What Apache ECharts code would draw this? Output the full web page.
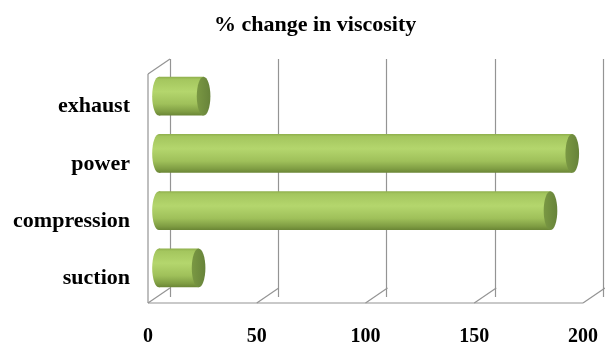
<!DOCTYPE html>
<html>
<head>
<meta charset="utf-8">
<script src="https://cdn.jsdelivr.net/npm/echarts@6/dist/echarts.min.js"></script>
<style>
  html, body { margin: 0; padding: 0; background: #ffffff; }
  #chart { width: 605px; height: 347px; }
</style>
</head>
<body>
<div id="chart"></div>
<script>
// Data
const categories = ['suction', 'compression', 'power', 'exhaust'];
const viscosityChange = [18.2, 180, 190, 20.5];
const axisTicks = [0, 50, 100, 150, 200];
const chartTitle = '% change in viscosity';

// Style constants
const FONT = "'Liberation Serif', 'Times New Roman', serif";
const DEPTH_X = 22;    // horizontal shift of the back wall
const DEPTH_Y = -15;   // vertical shift of the back wall
const FRAME = '#949494';

const chart = echarts.init(document.getElementById('chart'), null, { renderer: 'canvas' });

// Floor slants, front edge and left side of the 3-D box
function renderFrame(params, api) {
  const cs = params.coordSys;
  const x = api.coord([api.value(0), 0])[0];
  const yb = cs.y + cs.height;
  const line = (x1, y1, x2, y2) => ({
    type: 'line',
    shape: { x1: x1, y1: y1, x2: x2, y2: y2 },
    style: { stroke: FRAME, lineWidth: 1.2 }
  });
  const children = [line(x, yb, x + DEPTH_X, yb + DEPTH_Y)];
  if (params.dataIndex === 0) {
    children.push(line(x, cs.y, x, yb));
    children.push(line(x, cs.y, x + DEPTH_X, cs.y + DEPTH_Y));
    children.push(line(x, yb, cs.x + cs.width, yb));
  }
  return { type: 'group', children: children };
}

// Horizontal cylinders placed at mid depth
function renderCylinder(params, api) {
  const val = api.value(0);
  const idx = api.value(1);
  const p0 = api.coord([0, idx]);
  const p1 = api.coord([val, idx]);
  const h = api.size([0, 1])[1] * 0.68;
  const cx0 = p0[0] + DEPTH_X / 2;
  const cx1 = p1[0] + DEPTH_X / 2;
  const cy = p0[1] + DEPTH_Y / 2 + 1;
  const rx = h * 0.175;
  const ry = h / 2;
  const body = new echarts.graphic.LinearGradient(0, 0, 0, 1, [
    { offset: 0, color: '#8eae4b' },
    { offset: 0.07, color: '#a4c65e' },
    { offset: 0.38, color: '#b4d66d' },
    { offset: 0.7, color: '#9fc05a' },
    { offset: 0.9, color: '#7f9d43' },
    { offset: 1, color: '#6a8535' }
  ]);
  const cap = new echarts.graphic.LinearGradient(0, 0, 1, 0, [
    { offset: 0, color: '#7a9843' },
    { offset: 1, color: '#67833a' }
  ]);
  return {
    type: 'group',
    children: [
      { type: 'ellipse', shape: { cx: cx0, cy: cy, rx: rx, ry: ry }, style: { fill: body } },
      { type: 'rect', shape: { x: cx0, y: cy - ry, width: cx1 - cx0, height: h }, style: { fill: body } },
      { type: 'ellipse', shape: { cx: cx1, cy: cy, rx: rx, ry: ry }, style: { fill: cap } }
    ]
  };
}

const labelFont = { fontFamily: FONT, fontWeight: 'bold', fontSize: 22, color: '#000000' };

const option = {
  backgroundColor: '#ffffff',
  animation: false,
  title: {
    text: chartTitle,
    left: 209,
    top: 9,
    textStyle: { fontFamily: FONT, fontWeight: 'bold', fontSize: 22, color: '#000000' }
  },
  grid: [
    { left: 148, right: 22, top: 74, bottom: 35 },   // front plane
    { left: 170, right: 2, top: 59, bottom: 50 }     // back wall
  ],
  xAxis: [
    {
      type: 'value', gridIndex: 0,
      min: axisTicks[0], max: axisTicks[axisTicks.length - 1], interval: 50,
      axisLine: { show: false }, axisTick: { show: false }, splitLine: { show: false },
      axisLabel: { fontFamily: FONT, fontWeight: 'bold', fontSize: 20, color: '#000000', margin: 24 }
    },
    {
      type: 'value', gridIndex: 1,
      min: axisTicks[0], max: axisTicks[axisTicks.length - 1], interval: 50,
      axisLine: { show: false }, axisTick: { show: false }, axisLabel: { show: false },
      splitLine: { show: true, lineStyle: { color: FRAME, width: 1.2 } }
    }
  ],
  yAxis: [
    {
      type: 'category', gridIndex: 0, data: categories,
      axisLine: { show: false }, axisTick: { show: false }, splitLine: { show: false },
      axisLabel: Object.assign({
        margin: 18,
        formatter: v => '{c|' + v + '}',
        rich: { c: Object.assign({ padding: [8, 0, 0, 0] }, labelFont) }
      }, labelFont)
    },
    {
      type: 'category', gridIndex: 1, data: categories, show: false
    }
  ],
  series: [
    {
      type: 'custom', name: 'frame',
      xAxisIndex: 0, yAxisIndex: 0,
      renderItem: renderFrame,
      data: axisTicks.map(v => [v, 0]),
      encode: { x: 0, y: 1 },
      silent: true, z: 1
    },
    {
      type: 'custom', name: chartTitle,
      xAxisIndex: 0, yAxisIndex: 0,
      renderItem: renderCylinder,
      data: viscosityChange.map((v, i) => [v, i]),
      encode: { x: 0, y: 1 },
      z: 5
    }
  ]
};

chart.setOption(option);
</script>
</body>
</html>
